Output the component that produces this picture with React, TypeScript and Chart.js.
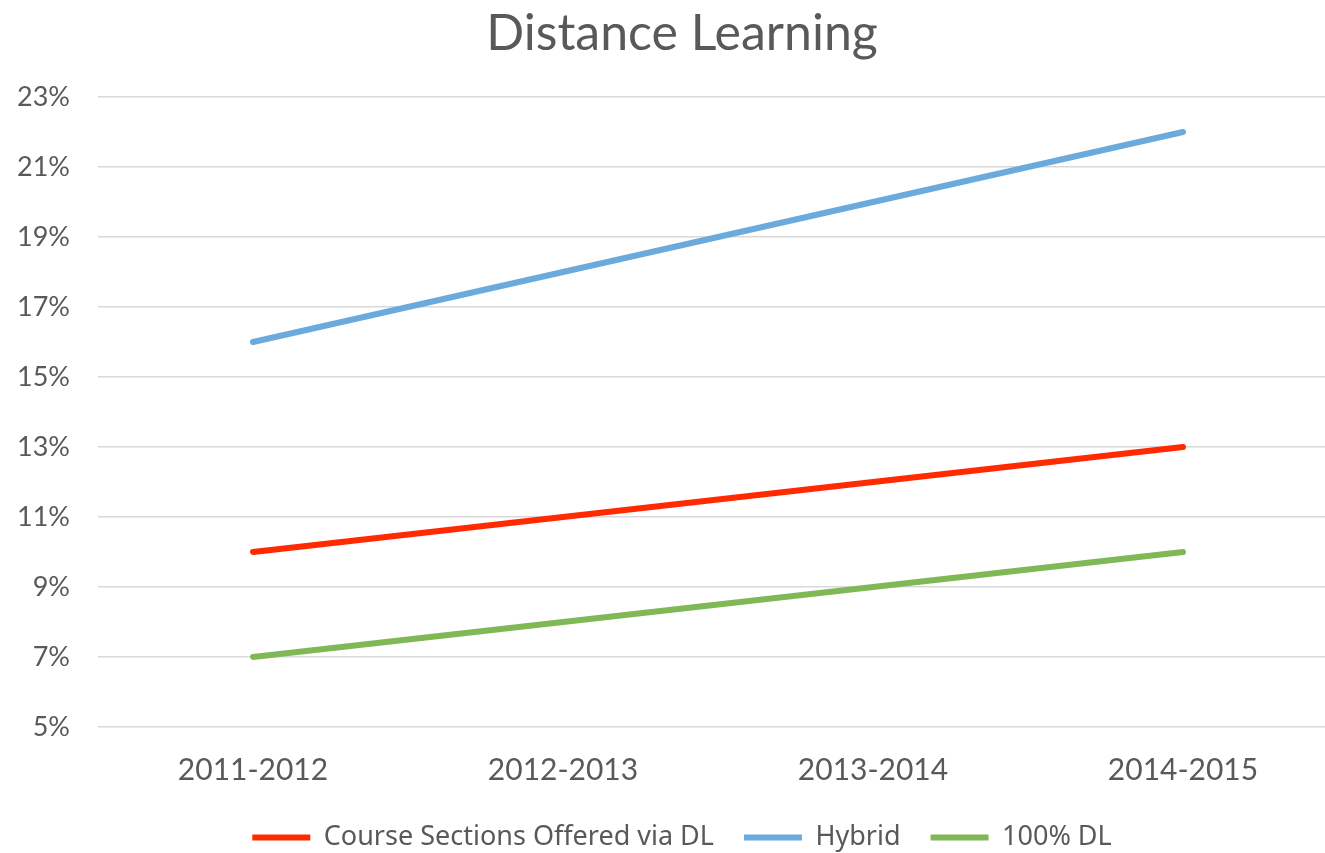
import React, { useEffect, useRef } from "react";
import { Chart, registerables } from "chart.js";

Chart.register(...registerables);

const categories = ["2011-2012", "2012-2013", "2013-2014", "2014-2015"];
const courseSections = [10, 11, 12, 13];
const hybrid = [16, 18, 20, 22];
const fullDL = [7, 8, 9, 10];
const yMin = 5;
const yMax = 23;
const yStep = 2;

const GRAY = "#595959";

export default function App() {
  const ref = useRef<HTMLCanvasElement | null>(null);
  useEffect(() => {
    if (!ref.current) return;
    const chart = new Chart(ref.current, {
      type: "line",
      data: {
        labels: categories,
        datasets: [
          { label: "Course Sections Offered via DL", data: courseSections, borderColor: "#ff2a00", backgroundColor: "#ff2a00" },
          { label: "Hybrid", data: hybrid, borderColor: "#6aaadc", backgroundColor: "#6aaadc" },
          { label: "100% DL", data: fullDL, borderColor: "#80b856", backgroundColor: "#80b856" },
        ].map((d) => ({ ...d, borderWidth: 6, pointRadius: 0, tension: 0, borderCapStyle: "round" as const, fill: false })),
      },
      options: {
        responsive: false,
        animation: false,
        devicePixelRatio: 1,
        layout: { padding: { left: 0, right: 0, top: 0, bottom: 0 } },
        plugins: {
          title: {
            display: true,
            text: "Distance Learning",
            color: GRAY,
            font: { family: "'Lato', 'Noto Sans', sans-serif", size: 50, weight: "normal" },
            padding: { top: 4, bottom: 33 },
          },
          legend: {
            position: "bottom",
            labels: {
              color: GRAY,
              font: { family: "'Noto Sans', sans-serif", size: 27 },
              usePointStyle: true,
              pointStyle: "line",
              pointStyleWidth: 58,
              padding: 30,
            },
          },
          tooltip: { enabled: false },
        },
        scales: {
          x: {
            type: "category",
            offset: true,
            grid: { display: false, drawTicks: false },
            border: { display: false },
            afterFit: (scale: any) => {
              scale.height = 67;
            },
            ticks: {
              color: GRAY,
              padding: 25,
              font: { family: "'Lato', 'Noto Sans', sans-serif", size: 30 },
            },
          },
          y: {
            min: yMin,
            max: yMax,
            afterFit: (scale: any) => {
              scale.width = 98;
            },
            grid: { color: "#d9d9d9", lineWidth: 1.5, drawTicks: false },
            border: { display: false },
            ticks: {
              stepSize: yStep,
              color: GRAY,
              padding: 28,
              font: { family: "'Lato', 'Noto Sans', sans-serif", size: 27 },
              callback: (v: any) => v + "%",
            },
          },
          yRight: {
            position: "right",
            min: yMin,
            max: yMax,
            grid: { display: false, drawTicks: false },
            border: { display: false },
            ticks: { display: false },
            afterFit: (scale: any) => {
              scale.width = 26;
            },
          },
        },
      },
    });
    return () => chart.destroy();
  }, []);
  return (
    <div style={{ position: "fixed", left: 0, top: 0, width: 1325, height: 853, overflow: "hidden", background: "#fff" }}>
      <canvas ref={ref} width={1364} height={861} style={{ display: "block" }} />
    </div>
  );
}
